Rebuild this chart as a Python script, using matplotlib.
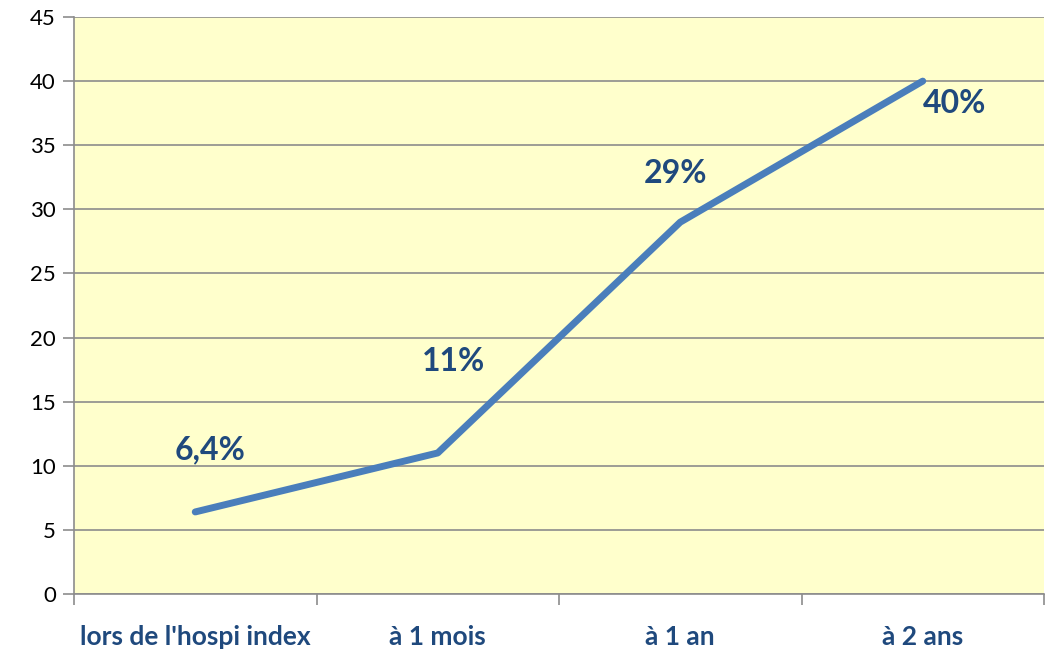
import matplotlib.pyplot as plt
import numpy as np

# data
categories = ["lors de l'hospi index", "à 1 mois", "à 1 an", "à 2 ans"]
values = [6.4, 11, 29, 40]
labels = ["6,4%", "11%", "29%", "40%"]
# label offsets in pixels (dx, dy)
offsets = [(15, 62), (16, 91), (-5, 49), (32, -22)]

plt.rcParams['font.family'] = ['Lato', 'DejaVu Sans']

fig = plt.figure(figsize=(10.53, 6.52), dpi=100)
ax = fig.add_axes([74 / 1053, 58 / 652, 970 / 1053, 577 / 652])
ax.set_facecolor('#FFFFCC')

x = np.arange(len(categories))
ax.plot(x, values, color='#4A7EBB', linewidth=5, solid_capstyle='round', zorder=3)

for xi, v, lab, (dx, dy) in zip(x, values, labels, offsets):
    ax.annotate(lab, (xi, v), xytext=(dx * 0.72, dy * 0.72), textcoords='offset points',
                ha='center', va='center', fontsize=23, fontweight='bold', color='#1F497D')

ax.set_xlim(-0.5, len(categories) - 0.5)
ax.set_ylim(0, 45)
ax.set_yticks(np.arange(0, 46, 5))
ax.yaxis.grid(True, color='#8C8C8C', linewidth=1.2)
ax.set_axisbelow(True)

ax.set_xticks(np.arange(-0.5, len(categories), 1))
ax.set_xticklabels([])
ax.set_xticks(x, minor=True)
ax.set_xticklabels(categories, minor=True, fontsize=19, fontweight='bold', color='#1F497D')
ax.tick_params(axis='x', which='minor', length=0, pad=22)
ax.tick_params(axis='x', which='major', length=8, color='#8C8C8C', width=1.2)
ax.tick_params(axis='y', length=8, color='#8C8C8C', width=1.2, labelsize=16, pad=5)

for s in ['top', 'right']:
    ax.spines[s].set_visible(False)
for s in ['left', 'bottom']:
    ax.spines[s].set_color('#8C8C8C')
    ax.spines[s].set_linewidth(1.2)

plt.savefig('out.png')
